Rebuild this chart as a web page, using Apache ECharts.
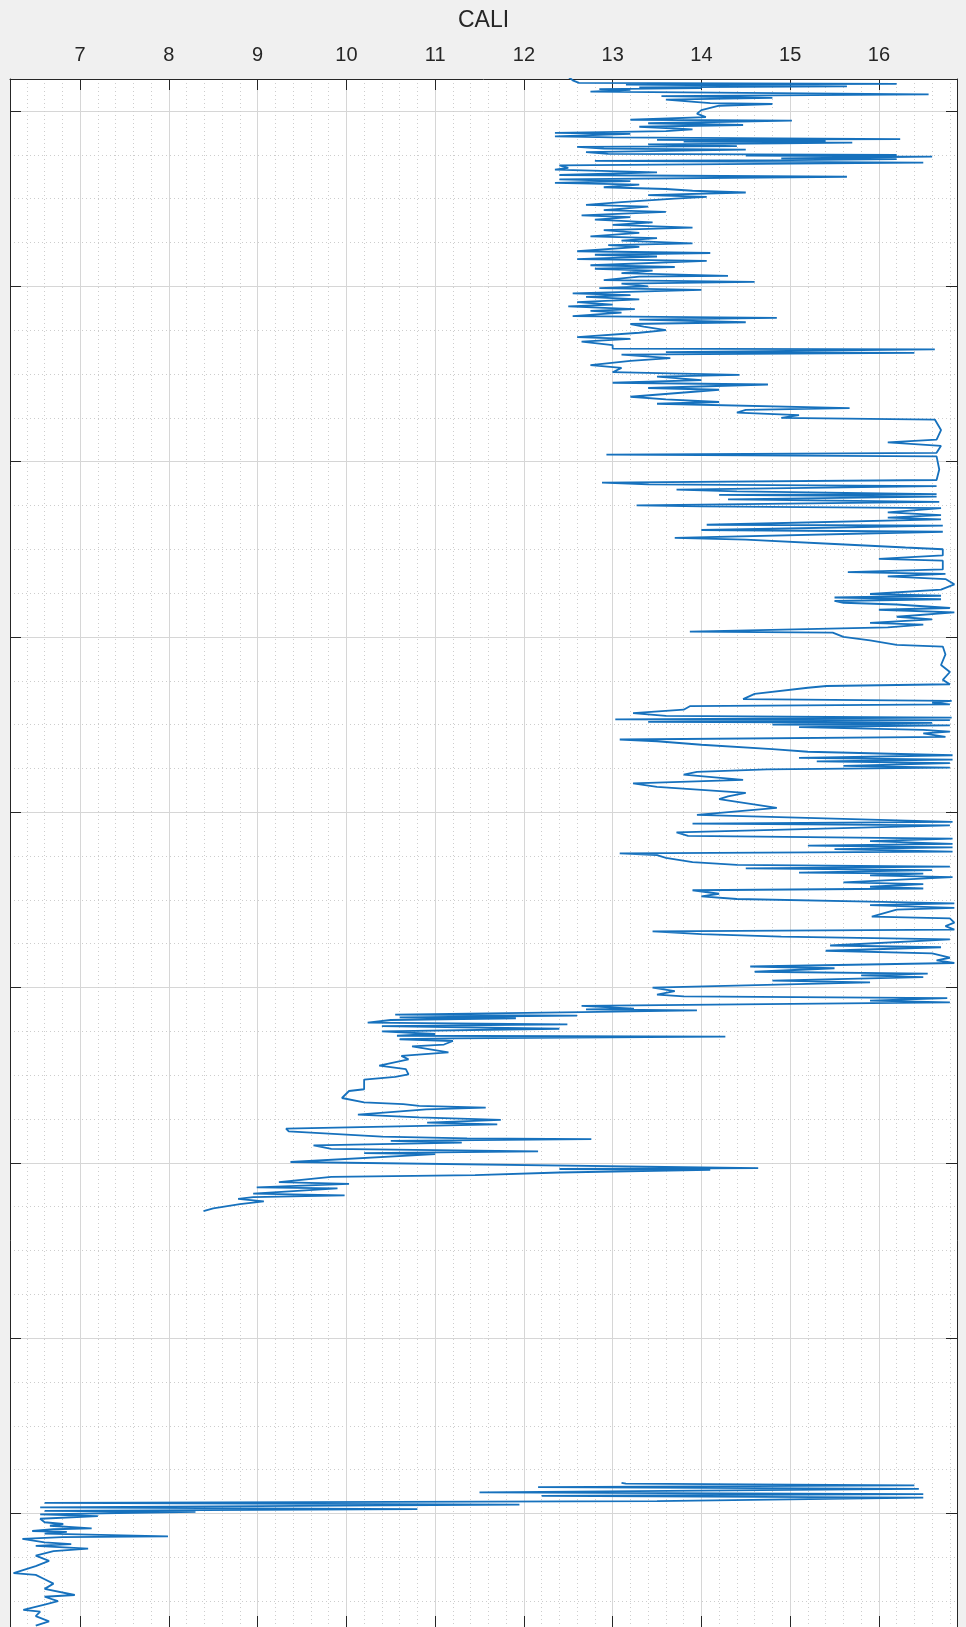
<!DOCTYPE html>
<html>
<head>
<meta charset="utf-8">
<script src="https://cdn.jsdelivr.net/npm/echarts@6/dist/echarts.min.js"></script>
<style>
html,body{margin:0;padding:0;background:#f0f0f0;}
#chart{width:966px;height:1627px;}
</style>
</head>
<body>
<div id="chart"></div>
<script>
// ---- Axis ticks ----
const caliTickLabels = [7, 8, 9, 10, 11, 12, 13, 14, 15, 16];
const depthMajorTicks = [2000, 2200, 2400, 2600, 2800, 3000, 3200, 3400, 3600];
const caliMin = 6.21, caliMax = 16.88;
const depthMin = 1963.5, depthMax = 3729.5;

// ---- Log data: [CALI, depth] ----
const upperLog = [
[12.5,1961],[12.55,1965],[12.62,1968],[16.2,1969],[13.15,1970],[15.64,1972],[13.3,1973],[14.0,1974],[12.85,1975],[13.2,1976],[12.75,1978],[16.56,1981],[13.55,1983],[14.8,1985],[13.6,1987],[14.1,1991],[14.8,1992],[14.2,1994],[14.0,1999],[13.95,2003],[14.05,2007],[13.2,2010],[15.02,2011],[13.4,2014],[14.47,2016],[13.3,2018],[13.9,2021],[13.6,2023],[12.35,2025],[13.2,2026],[12.35,2029],[13.0,2030],[16.24,2032],[13.5,2033],[15.4,2034],[13.8,2035],[15.7,2036],[14.9,2037],[13.4,2038],[14.4,2040],[12.6,2041],[12.9,2043],[14.5,2044],[12.7,2047],[12.95,2049],[16.2,2050],[14.5,2051],[16.6,2052],[14.9,2054],[16.2,2055],[15.0,2056],[12.8,2057],[16.5,2059],[12.4,2062],[12.5,2065],[12.35,2067],[13.5,2070],[12.4,2073],[15.64,2075],[12.4,2078],[13.2,2080],[12.35,2082],[13.3,2084],[12.9,2087],[13.6,2089],[13.9,2091],[14.5,2093],[13.4,2096],[14.06,2098],[13.7,2100],
[13.1,2104],[12.7,2107],[13.4,2109],[12.9,2113],[13.6,2115],[12.65,2119],[13.2,2121],[12.8,2124],[13.45,2127],[13.0,2130],[13.9,2133],[12.9,2136],[13.3,2139],[12.75,2143],[13.5,2145],[13.1,2148],[13.9,2151],[12.95,2153],[13.3,2155],
[12.6,2160],[14.1,2162],[12.8,2164],[13.5,2166],[12.6,2169],[14.06,2171],
[12.75,2176],[13.7,2178],[12.8,2180],[13.45,2182],[13.1,2185],[14.3,2188],[13.3,2189],
[12.9,2193],[14.6,2195],[13.1,2197],[13.4,2200],[12.85,2202],[14.0,2204],
[12.55,2208],[13.2,2210],[12.7,2212],[13.3,2215],[12.6,2218],[13.0,2221],[12.5,2223],[13.25,2226],[12.75,2228],[13.1,2230],
[12.55,2234],[14.85,2236],[13.3,2238],[14.5,2241],[13.2,2243],
[13.35,2246],[13.6,2250],[13.3,2253],
[12.6,2258],[13.2,2260],[12.65,2263],[13.0,2267],
[13.0,2271],[16.63,2272],[13.6,2275],[16.4,2276],[13.1,2278],
[13.65,2282],[13.2,2285],[12.75,2290],[13.1,2293],
[13.0,2298],[14.43,2301],[13.5,2303],[14.0,2307],
[13.0,2310],[14.75,2312],[13.4,2316],[14.2,2318],
[13.2,2326],[13.6,2329],[14.2,2332],[13.5,2334],
[15.67,2339],[14.5,2341],[14.4,2344],[15.1,2347],[14.9,2350],
[16.63,2352],[16.7,2364],[16.65,2375],[16.1,2378],[16.7,2382],
[16.65,2390],[12.93,2392],[16.65,2394],
[16.68,2409],[16.65,2421],[12.88,2424],[13.4,2426],[16.65,2428],
[13.72,2432],[14.4,2434],[16.65,2437],[14.2,2438],[16.65,2440],[14.3,2443],[16.68,2446],
[13.27,2450],[14.0,2451],[16.7,2453],
[16.1,2458],[16.7,2461],[16.1,2464],[16.7,2466],
[14.06,2472],[16.72,2473],[14.0,2478],[16.72,2480],
[13.7,2487],[14.5,2489],[15.5,2494],[16.3,2498],[16.72,2500],[16.72,2507],[16.0,2511],[16.72,2513],
[16.72,2523],[15.65,2526],[16.75,2528],[16.1,2531],[16.75,2534],[16.85,2540],[16.7,2546],
[15.9,2551],[16.7,2553],[15.5,2555],[16.7,2557],[15.5,2559],
[15.6,2561],[16.2,2563],[16.8,2567],[16.0,2569],[16.85,2572],[16.2,2577],[16.6,2580],[15.9,2584],[16.5,2586],[16.1,2589],
[13.87,2594],[15.48,2595],[15.6,2600],[15.9,2604],[16.2,2609],[16.72,2611],
[16.75,2620],[16.7,2632],[16.8,2640],[16.72,2649],[16.8,2654],
[15.41,2656],[15.2,2658],[14.6,2665],[14.47,2671],
[16.82,2673],[16.6,2675],[16.8,2677],[13.87,2679],[13.8,2683],
[13.23,2687],[13.6,2690],
[16.82,2692],[13.03,2694],[16.8,2695],[13.4,2697],[16.6,2698],[14.8,2700],[16.8,2701],
[15.1,2703],[16.5,2706],[16.8,2708],[16.5,2710],
[16.75,2714],[13.08,2717],[13.5,2719],[14.0,2723],[14.8,2728],[15.2,2731],
[16.83,2735],[15.1,2738],[16.83,2740],[15.3,2742],[16.8,2744],[15.6,2747],
[16.8,2749],[14.74,2751],[13.95,2754],[13.8,2757],[14.47,2763],
[13.23,2767],[13.5,2771],[14.5,2778],[14.3,2782],[14.2,2785],[14.85,2795],[13.95,2803],
[16.83,2811],[13.9,2813],[16.8,2815],[13.72,2823],[13.85,2827],[16.83,2830],
[15.9,2833],[16.83,2836],[15.2,2838],[16.83,2840],[15.5,2842],
[16.83,2845],[13.08,2847],[13.5,2849],[13.6,2852],[13.9,2857],
[14.4,2860],[16.8,2862],[14.5,2864],[16.6,2866],[15.1,2869],[16.5,2870],
[15.9,2872],[16.83,2874],
[15.6,2880],[16.5,2882],[15.9,2885],[16.5,2887],
[13.9,2889],[14.2,2893],[14.0,2896],[14.4,2899],[15.9,2902],
[16.85,2904],[15.9,2906],[16.85,2909],[16.2,2911],
[15.92,2919],[16.8,2921],[16.85,2926],[16.75,2930],[16.85,2934],
[13.45,2936],[14.0,2939],[14.9,2942],[16.8,2945],
[15.45,2952],[16.7,2954],[15.4,2958],[16.6,2961],
[16.8,2966],[16.65,2969],[16.85,2972],
[14.55,2976],[15.5,2978],[14.6,2982],[16.55,2984],[15.8,2986],[16.5,2988],
[14.8,2992],[15.9,2994],
[13.45,3000],[13.7,3004],[13.5,3008],[13.8,3010],
[16.77,3012],[15.9,3015],[16.8,3017],
[12.65,3021],[13.24,3024],[12.7,3025],[13.95,3026],[12.65,3028],
[10.55,3031],[12.6,3032],[10.6,3034],[11.91,3035],[10.5,3037],
[10.24,3040],[12.49,3042],[10.4,3044],[12.4,3047],[10.4,3050],
[11.0,3053],[10.57,3055],[14.27,3056],[11.2,3058],[10.6,3059],[11.2,3061],
[11.1,3065],[10.74,3067],[11.15,3074],
[10.62,3078],[10.7,3082],
[10.37,3089],[10.67,3093],[10.7,3099],[10.55,3102],[10.2,3105],
[10.2,3116],[10.03,3118],[9.95,3126],[10.2,3131],[10.64,3133],[10.82,3135],[11.57,3137],[10.9,3139],
[10.13,3145],[10.82,3148],[11.74,3151],[10.91,3154],[11.7,3156],[9.32,3161],[9.35,3164],
[10.4,3170],[11.36,3172],[12.76,3173],[10.5,3175],[11.3,3177],[9.63,3180],
[9.83,3184],[12.16,3187],[10.2,3189],[11.0,3190],[9.37,3199],
[14.64,3206],[12.4,3207],[14.1,3208],[12.4,3211],[11.45,3214],[9.83,3216],
[9.24,3222],[10.03,3224],[8.99,3228],[9.9,3229],[8.95,3235],[9.98,3237],[8.95,3239],
[8.78,3241],[9.07,3244],[8.8,3247],[8.5,3252],[8.39,3255]
];

const lowerLog = [
[13.1,3565],[13.15,3566],[16.4,3568],[12.16,3570],[16.45,3572],[11.5,3576],[14.3,3577],[16.5,3578],[12.2,3580],[16.5,3582],[13.5,3586],[6.6,3588],[11.95,3590],[6.55,3593],[10.8,3595],[6.6,3597],[8.3,3598],[6.55,3601],[7.2,3603],[6.55,3606],[6.6,3610],[6.81,3612],[6.66,3614],[7.13,3617],[6.7,3618],[6.46,3620],[6.85,3621],[6.6,3623],[7.99,3626],[6.8,3627],[6.35,3629],[6.6,3633],[6.9,3635],[6.5,3637],[7.09,3640],[6.7,3643],[6.5,3648],[6.65,3654],[6.5,3660],[6.25,3668],[6.5,3670],[6.6,3675],[6.7,3680],[6.6,3686],[6.94,3693],[6.6,3695],[6.75,3700],[6.6,3704],[6.36,3710],[6.55,3712],[6.5,3717],[6.65,3723],[6.5,3728]
];

// ---- minor grid values derived from the major tick steps ----
const caliMinor = [];
for (let i = Math.ceil(caliMin * 5); i <= Math.floor(caliMax * 5); i++) {
  if (i % 5 !== 0) caliMinor.push(i / 5);
}
const depthMinor = [];
for (let d = Math.ceil(depthMin / 50) * 50; d <= depthMax; d += 50) {
  if (d % 200 !== 0) depthMinor.push(d);
}

const FONT = '"Liberation Sans", Arial, Helvetica, sans-serif';
const AXIS_COLOR = '#262626';
const LINE_COLOR = '#1671bd';

const chart = echarts.init(document.getElementById('chart'), null, {renderer: 'canvas'});

const gridRect = {left: 10, top: 79, width: 947, height: 1549};

const baseX = {type: 'value', min: caliMin, max: caliMax, gridIndex: 0};
const baseY = {type: 'value', min: depthMin, max: depthMax, inverse: true, gridIndex: 0};

chart.setOption({
  animation: false,
  backgroundColor: '#f0f0f0',
  grid: [Object.assign({show: true, backgroundColor: '#ffffff', borderWidth: 0}, gridRect)],
  xAxis: [
    Object.assign({}, baseX, {
      position: 'top',
      name: 'CALI',
      nameLocation: 'middle',
      nameGap: 47,
      nameTextStyle: {fontSize: 23, color: AXIS_COLOR, fontFamily: FONT},
      axisLine: {show: true, lineStyle: {color: AXIS_COLOR, width: 1}},
      axisTick: {show: true, inside: true, length: 11, customValues: caliTickLabels, lineStyle: {color: AXIS_COLOR, width: 1}},
      axisLabel: {show: true, customValues: caliTickLabels, fontSize: 20, color: AXIS_COLOR, fontFamily: FONT, margin: 14},
      splitLine: {show: true, lineStyle: {color: '#d6d6d6', width: 1}}
    }),
    Object.assign({}, baseX, {
      position: 'bottom',
      axisLine: {show: true, lineStyle: {color: AXIS_COLOR, width: 1}},
      axisTick: {show: true, inside: true, length: 11, customValues: caliTickLabels, lineStyle: {color: AXIS_COLOR, width: 1}},
      axisLabel: {show: false},
      splitLine: {show: false}
    }),
    Object.assign({}, baseX, {
      position: 'top',
      axisLine: {show: false},
      axisTick: {show: false, customValues: caliMinor},
      axisLabel: {show: false},
      splitLine: {show: true, lineStyle: {color: '#cdcdcd', width: 1, type: [1, 3]}}
    })
  ],
  yAxis: [
    Object.assign({}, baseY, {
      position: 'left',
      axisLine: {show: true, lineStyle: {color: AXIS_COLOR, width: 1}},
      axisTick: {show: true, inside: true, length: 11, customValues: depthMajorTicks, lineStyle: {color: AXIS_COLOR, width: 1}},
      axisLabel: {show: false},
      splitLine: {show: true, lineStyle: {color: '#d6d6d6', width: 1}}
    }),
    Object.assign({}, baseY, {
      position: 'right',
      axisLine: {show: true, lineStyle: {color: AXIS_COLOR, width: 1}},
      axisTick: {show: true, inside: true, length: 11, customValues: depthMajorTicks, lineStyle: {color: AXIS_COLOR, width: 1}},
      axisLabel: {show: false},
      splitLine: {show: false}
    }),
    Object.assign({}, baseY, {
      position: 'left',
      axisLine: {show: false},
      axisTick: {show: false, customValues: depthMinor},
      axisLabel: {show: false},
      splitLine: {show: true, lineStyle: {color: '#cdcdcd', width: 1, type: [1, 3]}}
    })
  ],
  series: [
    {
      type: 'line', name: 'CALI upper', xAxisIndex: 0, yAxisIndex: 0,
      data: upperLog, showSymbol: false, symbol: 'none', clip: true,
      lineStyle: {color: LINE_COLOR, width: 1.8}, z: 5
    },
    {
      type: 'line', name: 'CALI lower', xAxisIndex: 0, yAxisIndex: 0,
      data: lowerLog, showSymbol: false, symbol: 'none', clip: true,
      lineStyle: {color: LINE_COLOR, width: 1.8}, z: 5
    }
  ]
});
</script>
</body>
</html>
